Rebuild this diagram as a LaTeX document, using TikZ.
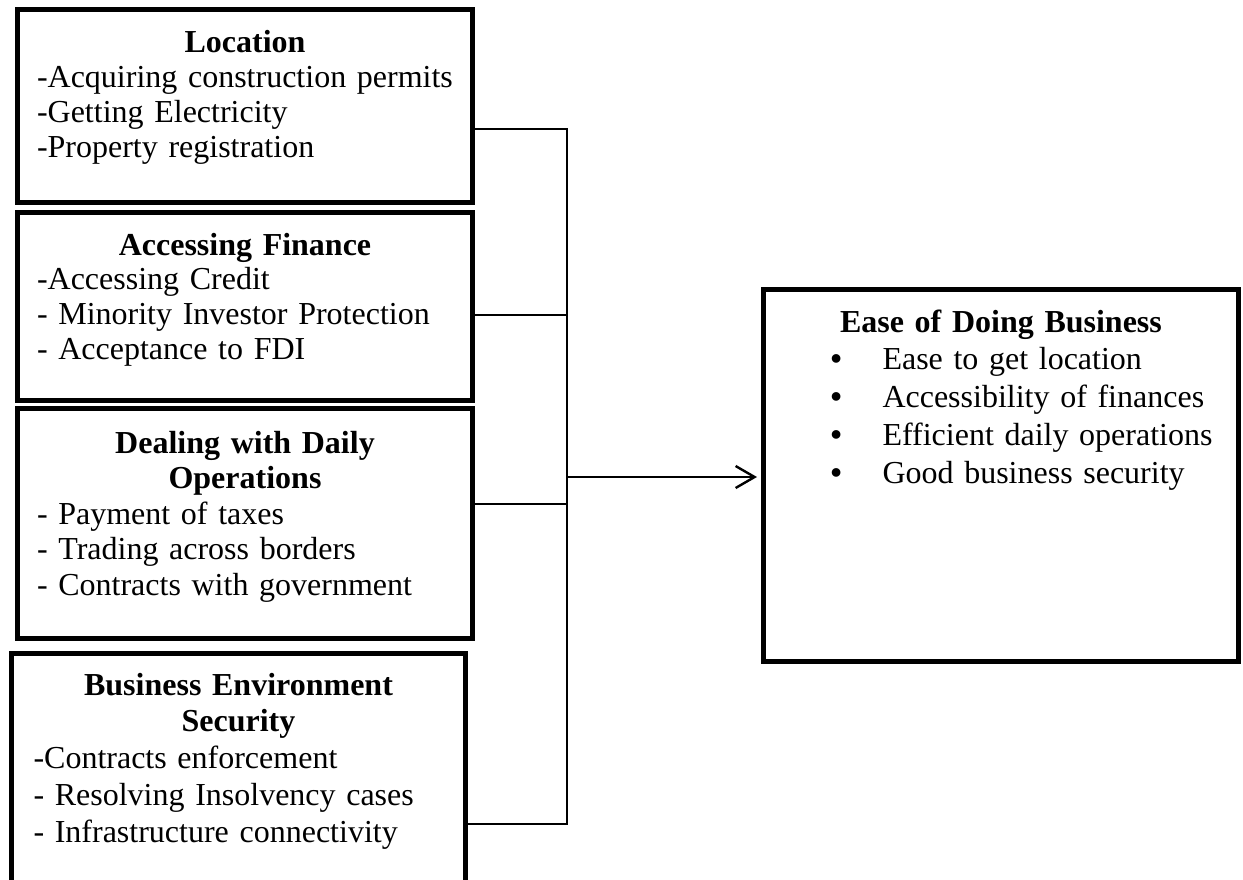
\documentclass[tikz,border=0pt]{standalone}
\usepackage{fontspec}
\setmainfont{Liberation Serif}
\usetikzlibrary{arrows.meta,positioning}

\newcommand{\bulitem}[1]{\hspace*{23.5pt}\makebox[26pt][l]{\bfseries\textbullet}#1}

\begin{document}
\begin{tikzpicture}[x=0.5pt, y=-0.5pt,
  box/.style={draw, line width=2.5pt, anchor=base west, align=left,
    inner xsep=9.75pt, inner ysep=0pt, text width=208pt},
  link/.style={line width=1pt},
  bus/.style={line width=1.25pt, line cap=rect},
  feed/.style={line width=1.3pt, -{Straight Barb[length=9.5pt, width=11pt, line width=1.2pt]}, shorten >=2pt}]
  \useasboundingbox (0,0) rectangle (1243,879);

  % factor boxes
  \node[box, text height=21.5pt, text depth=75pt,
    font=\fontsize{16}{17.5}\selectfont] (loc) at (15,52)
    {{\centering\bfseries Location\par}
     -Acquiring construction permits\\
     -Getting Electricity\\
     -Property registration};
  \node[box, text height=21.5pt, text depth=72.5pt,
    font=\fontsize{16}{17.4}\selectfont] (fin) at (15,255)
    {{\centering\bfseries Accessing Finance\par}
     -Accessing Credit\\
     - Minority Investor Protection\\
     - Acceptance to FDI};
  \node[box, text height=22.5pt, text depth=92.5pt,
    font=\fontsize{16}{17.75}\selectfont] (ops) at (15,453)
    {{\centering\bfseries Dealing with Daily\\Operations\par}
     - Payment of taxes\\
     - Trading across borders\\
     - Contracts with government};
  \node[box, inner xsep=11pt, text width=205pt, text height=21pt, text depth=102.5pt,
    font=\fontsize{16}{18.4}\selectfont] (sec) at (9,695)
    {{\centering\bfseries Business Environment\\Security\par}
     -Contracts enforcement\\
     - Resolving Insolvency cases\\
     - Infrastructure connectivity};

  % outcome
  \node[box, inner xsep=10pt, text width=217.5pt, text height=21.5pt, text depth=164.5pt,
    font=\fontsize{16}{18.9}\selectfont] (ease) at (761,332)
    {{\centering\bfseries Ease of Doing Business\par}
     \bulitem{Ease to get location}\\
     \bulitem{Accessibility of finances}\\
     \bulitem{Efficient daily operations}\\
     \bulitem{Good business security}};

  % bus
  \coordinate (b1) at (567,129);
  \coordinate (b2) at (567,315);
  \coordinate (b3) at (567,504);
  \coordinate (b4) at (567,824);
  \coordinate (bm) at (567,477);
  \draw[link] (loc.east |- b1) -- (b1);
  \draw[link] (fin.east |- b2) -- (b2);
  \draw[link] (ops.east |- b3) -- (b3);
  \draw[link] (sec.east |- b4) -- (b4);
  \draw[bus] (b1) -- (b4);
  \draw[feed] (bm) -- (ease.west |- bm);
\end{tikzpicture}
\end{document}
